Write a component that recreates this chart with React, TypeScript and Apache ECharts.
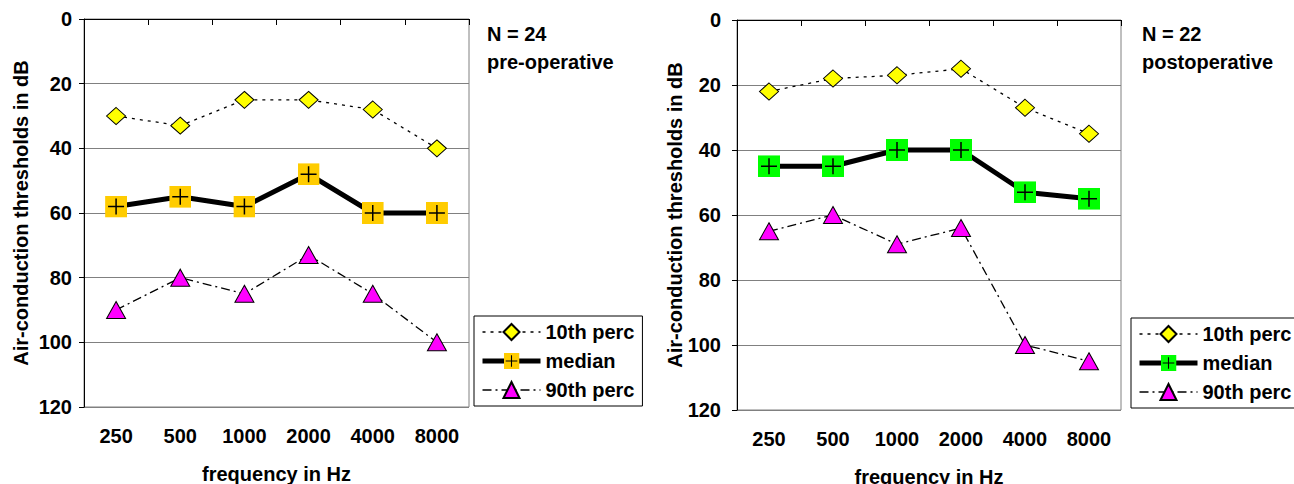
import React, { useEffect, useRef } from "react";
import * as echarts from "echarts";

const freqs = ["250", "500", "1000", "2000", "4000", "8000"];
const yMin = 0;
const yMax = 120;
const yStep = 20;

const pre10 = [30, 33, 25, 25, 28, 40];
const preMedian = [58, 55, 58, 48, 60, 60];
const pre90 = [90, 80, 85, 73, 85, 100];

const post10 = [22, 18, 17, 15, 27, 35];
const postMedian = [45, 45, 40, 40, 53, 55];
const post90 = [65, 60, 69, 64, 100, 105];

const seriesNames = ["10th perc", "median", "90th perc"];

const FONT = '"Liberation Sans", Arial, sans-serif';

const dotted = [3, 5];
const dashDot = [9, 4, 2, 4];

function plusSquare(color: string) {
  const svg = `<svg xmlns="http://www.w3.org/2000/svg" width="44" height="44" viewBox="0 0 22 22"><rect x="0" y="0" width="22" height="22" fill="${color}"/><path d="M11 3V19M3 11H19" stroke="#000000" stroke-width="1.5" fill="none"/></svg>`;
  return "image://data:image/svg+xml;charset=utf-8," + encodeURIComponent(svg);
}

interface Cfg {
  grid: { left: number; top: number; width: number; height: number };
  yLabelMargin: number;
  yNameGap: number;
  legend: { left: number; top: number };
  nLabel: string;
  stateLabel: string;
  textLeft: number;
  p10: number[];
  med: number[];
  p90: number[];
  medColor: string;
}

function buildOption(c: Cfg) {
  return {
    animation: false,
    backgroundColor: "#ffffff",
    textStyle: { fontFamily: FONT },
    grid: {
      ...c.grid,
      show: true,
      borderColor: "#808080",
      borderWidth: 1,
      containLabel: false,
      outerBoundsMode: "none",
    },
    legend: {
      show: true,
      orient: "vertical",
      left: c.legend.left,
      top: c.legend.top,
      data: [
        { name: seriesNames[0], lineStyle: { width: 1.3, type: dotted } },
        { name: seriesNames[1], lineStyle: { width: 5, type: "solid" } },
        { name: seriesNames[2], lineStyle: { width: 1.3, type: dashDot } },
      ],
      selectedMode: false,
      itemWidth: 58,
      itemHeight: 20,
      itemGap: 9,
      padding: [6, 8, 6, 6],
      borderColor: "#000000",
      borderWidth: 1,
      backgroundColor: "#ffffff",
      textStyle: { fontSize: 20, fontWeight: "bold", color: "#000000", fontFamily: FONT },
    },
    xAxis: {
      type: "category",
      data: freqs,
      boundaryGap: true,
      name: "frequency in Hz",
      nameLocation: "middle",
      nameGap: 57,
      nameTextStyle: { fontSize: 20, fontWeight: "bold", color: "#000000", fontFamily: FONT },
      axisLine: { show: true, lineStyle: { color: "#000000", width: 1 } },
      axisTick: { show: true, length: 6, lineStyle: { color: "#000000" } },
      axisLabel: { fontSize: 20, fontWeight: "bold", color: "#000000", margin: 19, fontFamily: FONT },
      splitLine: { show: false },
    },
    yAxis: {
      type: "value",
      inverse: true,
      min: yMin,
      max: yMax,
      interval: yStep,
      name: "Air-conduction thresholds in dB",
      nameLocation: "middle",
      nameGap: c.yNameGap,
      nameMoveOverlap: false,
      nameTextStyle: { fontSize: 20, fontWeight: "bold", color: "#000000", fontFamily: FONT },
      axisLine: { show: true, lineStyle: { color: "#000000", width: 1 } },
      axisTick: { show: true, length: 5, lineStyle: { color: "#000000" } },
      axisLabel: { fontSize: 20, fontWeight: "bold", color: "#000000", margin: c.yLabelMargin, fontFamily: FONT },
      splitLine: { show: true, lineStyle: { color: "#808080", width: 1 } },
    },
    graphic: [
      {
        type: "text",
        left: c.textLeft,
        top: 24,
        style: { text: c.nLabel, font: `bold 20px ${FONT}`, fill: "#000000" },
      },
      {
        type: "text",
        left: c.textLeft,
        top: 52,
        style: { text: c.stateLabel, font: `bold 20px ${FONT}`, fill: "#000000" },
      },
    ],
    series: [
      {
        name: seriesNames[0],
        type: "line",
        data: c.p10,
        symbol: "diamond",
        symbolSize: [19, 17],
        lineStyle: { color: "#000000", width: 1.3, type: dotted },
        itemStyle: { color: "#FFFF00", borderColor: "#000000", borderWidth: 1 },
        z: 3,
      },
      {
        name: seriesNames[1],
        type: "line",
        data: c.med,
        symbol: plusSquare(c.medColor),
        symbolSize: 22,
        lineStyle: { color: "#000000", width: 5, type: "solid" },
        itemStyle: { color: c.medColor, borderWidth: 0 },
        z: 4,
      },
      {
        name: seriesNames[2],
        type: "line",
        data: c.p90,
        symbol: "triangle",
        symbolSize: [19, 17],
        lineStyle: { color: "#000000", width: 1.3, type: dashDot },
        itemStyle: { color: "#FF00FF", borderColor: "#000000", borderWidth: 1 },
        z: 3,
      },
    ],
  };
}

function Chart({ cfg, style }: { cfg: Cfg; style: React.CSSProperties }) {
  const ref = useRef<HTMLDivElement | null>(null);
  useEffect(() => {
    if (!ref.current) return;
    const chart = echarts.init(ref.current, undefined, { renderer: "svg" });
    chart.setOption(buildOption(cfg) as any);
    return () => chart.dispose();
  }, []);
  return <div ref={ref} style={style} />;
}

const leftCfg: Cfg = {
  grid: { left: 84, top: 19, width: 385, height: 388 },
  yLabelMargin: 12,
  yNameGap: 53,
  legend: { left: 474, top: 316 },
  nLabel: "N = 24",
  stateLabel: "pre-operative",
  textLeft: 487,
  p10: pre10,
  med: preMedian,
  p90: pre90,
  medColor: "#FFCC00",
};

const rightCfg: Cfg = {
  grid: { left: 82, top: 20, width: 384, height: 390 },
  yLabelMargin: 16,
  yNameGap: 52,
  legend: { left: 476, top: 318 },
  nLabel: "N = 22",
  stateLabel: "postoperative",
  textLeft: 487,
  p10: post10,
  med: postMedian,
  p90: post90,
  medColor: "#00FF00",
};

export default function App() {
  return (
    <div
      style={{
        position: "absolute",
        left: 0,
        top: 0,
        width: 1294,
        height: 484,
        overflow: "hidden",
        background: "#ffffff",
      }}
    >
      <Chart cfg={leftCfg} style={{ position: "absolute", left: 0, top: 0, width: 655, height: 484 }} />
      <Chart cfg={rightCfg} style={{ position: "absolute", left: 655, top: 0, width: 639, height: 484 }} />
    </div>
  );
}
